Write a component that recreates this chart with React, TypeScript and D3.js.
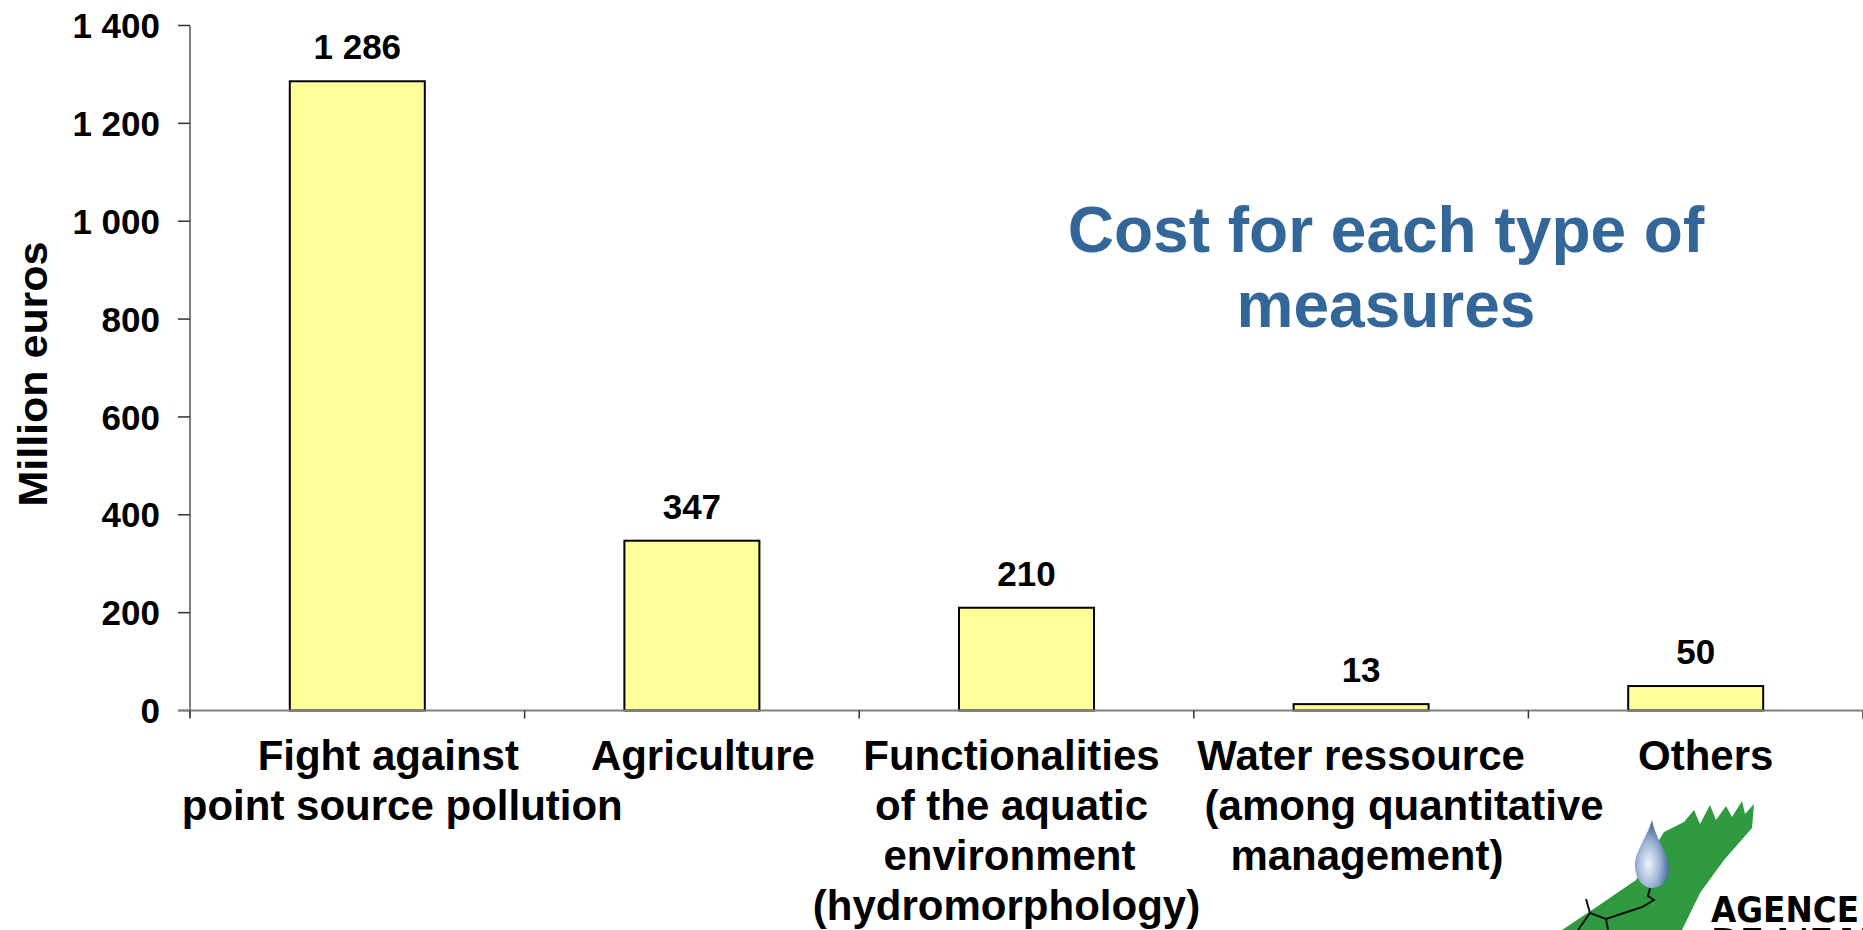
import React, { useEffect } from "react";
import * as d3 from "d3";

// ---- data ----
const categories = ["point", "agri", "hydro", "water", "others"];
const categoryLabelLines: string[][] = [
  ["Fight against", "point source pollution"],
  ["Agriculture"],
  ["Functionalities", "of the aquatic", "environment", "(hydromorphology)"],
  ["Water ressource", "(among quantitative", " management)"],
  ["Others"],
];
const costs = [1286, 347, 210, 13, 50];
const yTicks = [0, 200, 400, 600, 800, 1000, 1200, 1400];
const yTickLabels = ["0", "200", "400", "600", "800", "1 000", "1 200", "1 400"];
const valueLabels = ["1 286", "347", "210", "13", "50"];
const titleLines = ["Cost for each type of", "measures"];
const yAxisTitle = "Million euros";

// ---- layout (not data) ----
const W = 1863;
const H = 930;
const X0 = 190;
const X1 = 1863;
const Y0 = 710.5;
const Y1 = 25.5;
// horizontal offset of each label line from its band centre (as in the source slide)
const labelLineOffsets: number[][] = [
  [31, 45],
  [11],
  [-15, -15, -17, -20],
  [0, 43, 0],
  [10],
];
const FONT = "'Liberation Sans', Arial, Helvetica, sans-serif";

export default function App() {
  useEffect(() => {
    document.body.style.margin = "0";
    document.body.style.overflow = "hidden";
  }, []);

  const x = d3
    .scaleBand<string>()
    .domain(categories)
    .range([X0, X1])
    .paddingInner(0.5965)
    .paddingOuter(0.29825);
  const y = d3.scaleLinear().domain([0, 1400]).range([Y0, Y1]);
  const step = x.step();
  const boundaries = d3.range(categories.length + 1).map((i) => X0 + i * step);

  return (
    <svg
      width={W}
      height={H}
      style={{ position: "absolute", left: 0, top: 0, background: "#fff" }}
      fontFamily={FONT}
      fontWeight="bold"
    >
      <defs>
        <radialGradient id="drop" cx="0.4" cy="0.65" r="0.6">
          <stop offset="0" stopColor="#eef2fa" />
          <stop offset="0.5" stopColor="#a7bbdb" />
          <stop offset="1" stopColor="#4a6c9e" />
        </radialGradient>
      </defs>

      {/* bars */}
      {costs.map((v, i) => (
        <rect
          key={categories[i]}
          x={x(categories[i])}
          y={y(v)}
          width={x.bandwidth()}
          height={Y0 - y(v)}
          fill="#FFFF99"
          stroke="#000"
          strokeWidth={2}
        />
      ))}

      {/* value labels */}
      {costs.map((v, i) => (
        <text
          key={"v" + i}
          x={(x(categories[i]) as number) + x.bandwidth() / 2}
          y={y(v) - 22}
          textAnchor="middle"
          fontSize={35}
          fill="#000"
        >
          {valueLabels[i]}
        </text>
      ))}

      {/* y axis */}
      <line x1={X0} x2={X0} y1={Y1} y2={Y0 + 6} stroke="#808080" strokeWidth={2} />
      {yTicks.map((t, i) => (
        <g key={"yt" + t}>
          <line x1={X0 - 12} x2={X0} y1={y(t)} y2={y(t)} stroke="#333" strokeWidth={1.5} />
          <text
            x={X0 - 30}
            y={y(t)}
            dy="0.36em"
            textAnchor="end"
            fontSize={35}
            fill="#000"
          >
            {yTickLabels[i]}
          </text>
        </g>
      ))}

      {/* x axis */}
      <line x1={X0 - 12} x2={X1} y1={Y0} y2={Y0} stroke="#808080" strokeWidth={2} />
      {boundaries.map((bx, i) => (
        <line key={"xt" + i} x1={bx} x2={bx} y1={Y0} y2={Y0 + 8} stroke="#333" strokeWidth={1.5} />
      ))}

      {/* category labels */}
      {categoryLabelLines.map((lines, i) => {
        const cx = (x(categories[i]) as number) + x.bandwidth() / 2;
        return (
          <text key={"c" + i} fontSize={42} fill="#000" textAnchor="middle" style={{ whiteSpace: "pre" }}>
            {lines.map((ln, j) => (
              <tspan key={j} x={cx + labelLineOffsets[i][j]} y={770 + j * 50}>
                {ln}
              </tspan>
            ))}
          </text>
        );
      })}

      {/* y axis title */}
      <text
        transform={`translate(47, 374) rotate(-90)`}
        textAnchor="middle"
        fontSize={40}
        textLength={265}
        lengthAdjust="spacingAndGlyphs"
        fill="#000"
      >
        {yAxisTitle}
      </text>

      {/* chart title */}
      <text fontSize={64} fill="#336699" textAnchor="middle">
        {titleLines.map((ln, j) => (
          <tspan key={j} x={1386} y={252 + j * 75}>
            {ln}
          </tspan>
        ))}
      </text>

      {/* logo (decoration) */}
      <g>
        <path
          d="M1562 930 L1598 906 L1636 880 L1652 852 L1664 832 L1684 822 L1694 810 L1700 824 L1710 805 L1716 820 L1726 806 L1732 817 L1742 801 L1745 814 L1754 804 L1752 828 L1724 860 L1700 893 L1682 930 Z"
          fill="#2f9a3f"
        />
        <path
          d="M1652 820 C1647 838 1634 852 1635 867 C1636 881 1644 888 1652 888 C1662 888 1670 879 1669 866 C1668 852 1656 840 1652 820 Z"
          fill="url(#drop)"
        />
        <path
          d="M1650 888 L1648 896 L1654 900 L1642 907 L1624 913 L1606 919 L1590 913 L1586 899 M1590 913 L1578 930 M1606 919 L1608 930"
          fill="none"
          stroke="#111"
          strokeWidth={2}
        />
        <text x={1711} y={922} fontSize={35} fill="#000" fontFamily="'DejaVu Sans', Arial, sans-serif" fontWeight="bold" textLength={148} lengthAdjust="spacingAndGlyphs">
          AGENCE
        </text>
        <text x={1711} y={954} fontSize={35} fill="#000" fontFamily="'DejaVu Sans', Arial, sans-serif" fontWeight="bold">
          DE L'EAU
        </text>
      </g>
    </svg>
  );
}
